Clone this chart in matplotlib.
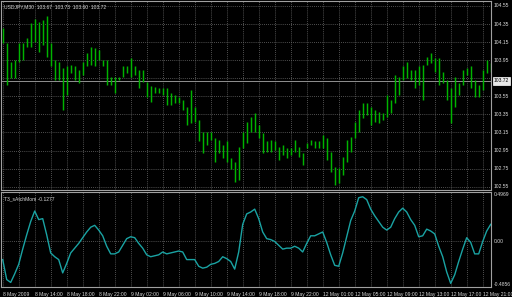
import matplotlib
matplotlib.use("Agg")
import matplotlib.pyplot as plt
import numpy as np

# ---------------- data ----------------
symbol_title = "USDJPY,M30  103.67  103.73  103.60  103.72"
indicator_title = "T3_sAtchMom -0.1277"
last_price = 103.72

highs = [104.31, 104.14, 103.93, 103.95, 104.14, 104.14, 104.19, 104.36, 104.41, 104.37,
         104.40, 104.44, 104.14, 103.95, 103.93, 103.86, 103.88, 103.90, 103.88, 103.84,
         103.93, 104.03, 104.10, 104.09, 104.06, 103.95, 103.95, 103.76, 103.76, 103.76,
         103.88, 103.88, 103.97, 103.88, 103.84, 103.84, 103.71, 103.66, 103.65, 103.64,
         103.64, 103.64, 103.59, 103.57, 103.54, 103.51, 103.43, 103.62, 103.43, 103.29,
         103.16, 103.16, 103.16, 103.09, 103.07, 103.01, 103.05, 102.87, 102.82, 102.99,
         103.16, 103.27, 103.32, 103.37, 103.23, 103.14, 103.05, 103.07, 103.05, 102.99,
         103.01, 102.98, 102.98, 103.07, 102.99, 102.92, 103.03, 103.07, 103.05, 103.05,
         103.12, 103.09, 102.93, 102.77, 102.76, 102.88, 103.07, 103.10, 103.27, 103.40,
         103.48, 103.48, 103.43, 103.40, 103.38, 103.37, 103.57, 103.51, 103.79, 103.76,
         103.88, 103.93, 103.84, 103.84, 103.88, 103.90, 103.99, 104.03, 103.97, 103.97,
         103.82, 103.73, 103.64, 103.76, 103.70, 103.84, 103.86, 103.88, 103.73, 103.68,
         103.84, 103.95, 103.92]
lows = [104.14, 103.68, 103.75, 103.75, 103.93, 103.95, 104.10, 104.10, 104.15, 104.04,
        104.12, 103.99, 103.88, 103.73, 103.73, 103.40, 103.57, 103.81, 103.73, 103.70,
        103.79, 103.88, 103.90, 103.88, 103.95, 103.88, 103.68, 103.68, 103.59, 103.73,
        103.76, 103.81, 103.76, 103.79, 103.64, 103.71, 103.54, 103.49, 103.59, 103.59,
        103.57, 103.45, 103.45, 103.48, 103.48, 103.40, 103.23, 103.26, 103.27, 103.05,
        102.92, 103.01, 103.07, 102.82, 102.92, 102.87, 102.82, 102.74, 102.60, 102.62,
        102.98, 103.03, 103.16, 103.16, 103.09, 102.92, 102.93, 102.93, 102.96, 102.85,
        102.90, 102.87, 102.90, 102.93, 102.88, 102.79, 102.98, 103.01, 102.98, 102.98,
        102.98, 102.85, 102.71, 102.57, 102.59, 102.68, 102.82, 102.93, 103.09, 103.16,
        103.31, 103.34, 103.23, 103.27, 103.26, 103.29, 103.32, 103.37, 103.48, 103.57,
        103.73, 103.75, 103.73, 103.64, 103.68, 103.51, 103.90, 103.92, 103.82, 103.68,
        103.70, 103.51, 103.26, 103.43, 103.57, 103.68, 103.79, 103.64, 103.54, 103.54,
        103.62, 103.81, 103.82]

indicator = [-0.19, -0.40, -0.43, -0.34, -0.24, -0.08, 0.07, 0.21, 0.32, 0.23,
             0.24, 0.07, -0.12, -0.16, -0.19, -0.33, -0.23, -0.12, -0.07, -0.02,
             0.04, 0.10, 0.15, 0.17, 0.12, 0.06, -0.05, -0.13, -0.13, -0.11,
             -0.04, 0.03, 0.05, 0.04, -0.02, -0.07, -0.14, -0.16, -0.15, -0.14,
             -0.11, -0.13, -0.12, -0.11, -0.10, -0.11, -0.19, -0.19, -0.19, -0.26,
             -0.28, -0.27, -0.24, -0.23, -0.21, -0.16, -0.18, -0.21, -0.29, -0.11,
             0.18, 0.29, 0.31, 0.34, 0.24, 0.10, 0.03, 0.02, 0.00, -0.04,
             -0.08, -0.07, -0.07, -0.05, -0.07, -0.11, -0.02, 0.06, 0.06, 0.08,
             0.10, -0.01, -0.14, -0.25, -0.26, -0.12, 0.05, 0.22, 0.32, 0.46,
             0.47, 0.44, 0.34, 0.27, 0.21, 0.15, 0.12, 0.15, 0.24, 0.31,
             0.35, 0.31, 0.23, 0.17, 0.05, 0.06, 0.13, 0.11, 0.08, -0.05,
             -0.16, -0.32, -0.44, -0.35, -0.21, -0.08, 0.04, -0.01, -0.13, -0.13,
             0.00, 0.11, 0.18]

price_ticks = [104.55, 104.35, 104.15, 103.95, 103.75, 103.55, 103.35, 103.15, 102.95, 102.75, 102.55]
price_labels = ["104.55", "104.35", "104.15", "103.95", "", "103.55", "103.35", "103.15", "102.95", "102.75", "102.55"]
ind_top_label, ind_zero_label, ind_bot_label = "0.4969", "0.00", "-0.4856"
time_labels = ["8 May 2009", "8 May 14:00", "8 May 18:00", "8 May 22:00", "9 May 02:00",
               "9 May 06:00", "9 May 10:00", "9 May 14:00", "9 May 18:00", "9 May 22:00",
               "12 May 01:00", "12 May 05:00", "12 May 09:00", "12 May 13:00",
               "12 May 17:00", "12 May 21:00"]

# ---------------- style ----------------
W, H = 512, 297
BG = "black"
BAR = "#00b400"
LINE = "#1aa3a3"
GRID = "#6a6a6a"
FRAME = "#a0a0a0"
TXT = "#d8d8d8"
FONT = "Liberation Sans"
FS = 3.6

fig = plt.figure(figsize=(W / 100, H / 100), dpi=100, facecolor=BG)

def fx(px):
    return px / W

def fy(py):
    return 1 - py / H

left, right = 1, 491
ax1 = fig.add_axes([fx(left), fy(190), fx(right - left), fy(1) - fy(190)], facecolor=BG)
ax2 = fig.add_axes([fx(left), fy(287), fx(right - left), fy(192) - fy(287)], facecolor=BG)

n = len(highs)
x = np.arange(n)
xlim = ((left - 2.7) / 4, (right - 2.7) / 4)
grid_kw = dict(color=GRID, lw=0.6, ls=(0, (1, 1.5)), zorder=0)

for ax in (ax1, ax2):
    ax.set_xlim(*xlim)
    ax.set_xticks([])
    ax.set_yticks([])
    for s in ax.spines.values():
        s.set_color(FRAME)
        s.set_linewidth(0.8)
    for gx in range(0, n, 4):
        ax.axvline(gx, **grid_kw)

# upper panel
ax1.set_ylim(102.513, 104.605)
for p in price_ticks:
    ax1.axhline(p, **grid_kw)
ax1.vlines(x, lows, highs, color=BAR, lw=1.05, zorder=3)
ax1.axhline(last_price, color="#909090", lw=0.7, zorder=2)
ax1.text(0.006, 0.985, symbol_title, transform=ax1.transAxes, color=TXT,
         fontsize=FS, family=FONT, va="top", ha="left")
for p, lab in zip(price_ticks, price_labels):
    if lab:
        ax1.text(1.006, p, lab, transform=ax1.get_yaxis_transform(), color=TXT,
                 fontsize=FS, family=FONT, va="center", ha="left", clip_on=False)
ax1.text(1.006, last_price, "%.2f" % last_price, transform=ax1.get_yaxis_transform(),
         color="black", fontsize=FS, family=FONT, va="center", ha="left", clip_on=False,
         bbox=dict(boxstyle="square,pad=0.25", fc="#e8e8e8", ec="white", lw=0.5))

# lower panel
ax2.set_ylim(-0.478, 0.52)
ax2.axhline(0, **grid_kw)
ax2.plot(x, indicator, color=LINE, lw=1.0, zorder=3)
ax2.text(0.006, 0.95, indicator_title, transform=ax2.transAxes, color=TXT,
         fontsize=FS, family=FONT, va="top", ha="left")
ax2.text(1.006, 0.97, ind_top_label, transform=ax2.transAxes, color=TXT,
         fontsize=FS, family=FONT, va="center", ha="left", clip_on=False)
ax2.text(1.006, 0, ind_zero_label, transform=ax2.get_yaxis_transform(), color=TXT,
         fontsize=FS, family=FONT, va="center", ha="left", clip_on=False)
ax2.text(1.006, 0.03, ind_bot_label, transform=ax2.transAxes, color=TXT,
         fontsize=FS, family=FONT, va="center", ha="left", clip_on=False)

# time axis labels
for k, lab in enumerate(time_labels):
    ax2.text(8 * k, -0.055, lab, transform=ax2.get_xaxis_transform(), color=TXT,
             fontsize=FS, family=FONT, va="top", ha="left", clip_on=False)

fig.savefig("out.png", dpi=100, facecolor=BG)
